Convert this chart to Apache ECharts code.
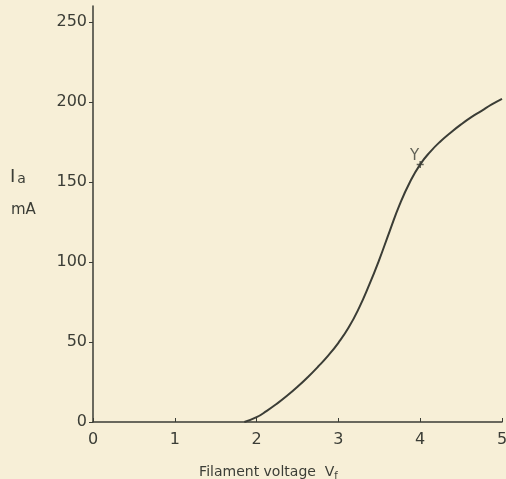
<!DOCTYPE html>
<html>
<head>
<meta charset="utf-8">
<script src="https://cdn.jsdelivr.net/npm/echarts@6/dist/echarts.min.js"></script>
<style>
  html, body { margin: 0; padding: 0; background: #f7efd7; }
  #chart { width: 506px; height: 479px; }
</style>
</head>
<body>
<div id="chart"></div>
<script>
// filament voltage (V) vs anode current (mA)
const voltage = [1.85, 2.0, 2.125, 2.25, 2.375, 2.5, 2.625, 2.75, 2.875, 3.0, 3.125, 3.25, 3.375,
  3.5, 3.625, 3.75, 3.875, 4.0, 4.125, 4.25, 4.375, 4.5, 4.625, 4.75, 4.875, 5.0];
const current = [0, 3, 7, 11.5, 16.5, 22, 28, 34.5, 41.5, 49.5, 59, 71, 85.5,
  101.5, 119, 136, 150, 161, 169, 175.5, 181, 186, 190.5, 194.5, 198.5, 202];
const xTicks = [0, 1, 2, 3, 4, 5];
const yTicks = [0, 50, 100, 150, 200, 250];
const pointY = [4.0, 161];

const ink = '#3b3d36';
const font = 'DejaVu Sans';

const chart = echarts.init(document.getElementById('chart'));

const option = {
  backgroundColor: '#f7efd7',
  animation: false,
  grid: { left: 93, right: 4, top: 6, bottom: 57, outerBoundsMode: 'none' },
  xAxis: {
    type: 'value',
    min: 0,
    max: 5,
    interval: 1,
    splitLine: { show: false },
    axisLine: { lineStyle: { color: ink, width: 1.5 } },
    axisTick: { inside: true, length: 4, lineStyle: { color: ink }, customValues: xTicks },
    axisLabel: { color: ink, fontFamily: font, fontSize: 16, margin: 10, customValues: xTicks },
    name: '{t|Filament voltage  V}{s|f}',
    nameLocation: 'middle',
    nameGap: 42,
    nameTextStyle: {
      padding: [0, 58, 0, 0],
      rich: {
        t: { color: ink, fontFamily: font, fontSize: 14 },
        s: { color: ink, fontFamily: font, fontSize: 10, verticalAlign: 'bottom', padding: [7, 0, 0, 0] },
      },
    },
  },
  yAxis: {
    type: 'value',
    min: 0,
    max: 260,
    splitLine: { show: false },
    axisLine: { show: true, lineStyle: { color: ink, width: 1.5 } },
    axisTick: { show: true, length: 4, lineStyle: { color: ink }, customValues: yTicks },
    axisLabel: { color: ink, fontFamily: font, fontSize: 16, margin: 6, customValues: yTicks },
  },
  graphic: [
    {
      type: 'text', left: 10, top: 168,
      style: {
        text: '{i|I}{a|a}',
        rich: {
          i: { fill: ink, font: '18px ' + font },
          a: { fill: ink, font: '14px ' + font, padding: [4, 0, 0, 2] },
        },
      },
    },
    {
      type: 'text', left: 11, top: 203,
      style: { text: 'mA', fill: ink, font: '15px ' + font },
    },
  ],
  series: [
    {
      type: 'line',
      smooth: true,
      symbol: 'none',
      data: voltage.map((v, i) => [v, current[i]]),
      lineStyle: { color: ink, width: 2 },
    },
    {
      type: 'scatter',
      data: [pointY],
      symbol: 'path://M0,5 L10,5 M5,0 L5,10',
      symbolSize: 7,
      itemStyle: { color: 'none', borderColor: ink, borderWidth: 1.5 },
      label: {
        show: true,
        formatter: 'Y',
        position: 'left',
        offset: [5, -8],
        distance: 0,
        color: ink,
        fontFamily: font,
        fontSize: 15,
      },
    },
  ],
};

chart.setOption(option);
</script>
</body>
</html>
